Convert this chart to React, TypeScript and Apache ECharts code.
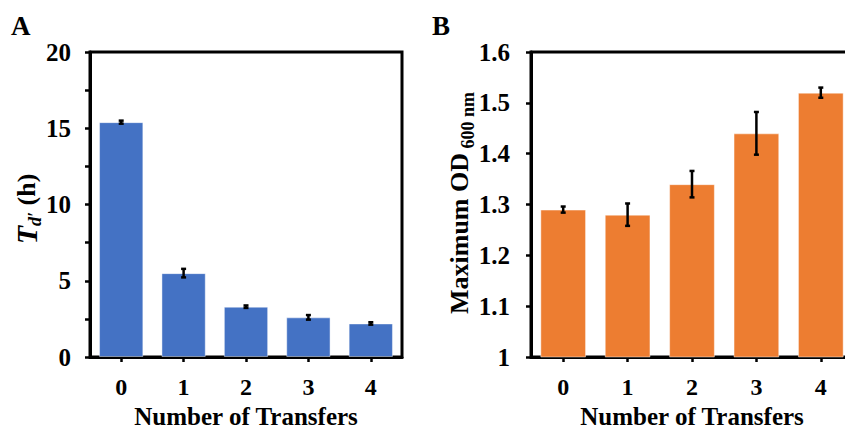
import React, { useEffect, useRef } from "react";
import * as echarts from "echarts";

const categories = ["0", "1", "2", "3", "4"];
const tdValues = [15.4, 5.5, 3.3, 2.6, 2.2];
const tdErrors = [0.1, 0.28, 0.08, 0.15, 0.08];
const odValues = [1.29, 1.28, 1.34, 1.44, 1.52];
const odErrors = [0.006, 0.022, 0.026, 0.042, 0.01];
const xAxisTitle = "Number of Transfers";

const FONT = "'Liberation Serif', 'Times New Roman', serif";

function errorData(vals: number[], errs: number[]) {
  return vals.map((v, i) => [i, v - errs[i], v + errs[i]]);
}

function renderError(params: any, api: any) {
  const x = api.value(0);
  const lo = api.value(1);
  const hi = api.value(2);
  const p1 = api.coord([x, hi]);
  const p2 = api.coord([x, lo]);
  const hw = 2.5;
  const st = { stroke: "#000", lineWidth: 2.5 };
  return {
    type: "group",
    children: [
      { type: "line", shape: { x1: p1[0], y1: p1[1], x2: p2[0], y2: p2[1] }, style: st },
      { type: "line", shape: { x1: p1[0] - hw, y1: p1[1], x2: p1[0] + hw, y2: p1[1] }, style: st },
      { type: "line", shape: { x1: p2[0] - hw, y1: p2[1], x2: p2[0] + hw, y2: p2[1] }, style: st },
    ],
  };
}

export default function App() {
  const ref = useRef<HTMLDivElement>(null);
  useEffect(() => {
    if (!ref.current) return;
    const chart = echarts.init(ref.current, null, { renderer: "svg" });
    const axisLine = { show: true, lineStyle: { color: "#000", width: 3 } };
    const axisTick = { show: true, inside: false, length: 5, lineStyle: { color: "#000", width: 2.5 } };
    const labelStyle = { color: "#000", fontFamily: FONT, fontWeight: "bold" as const };
    const xAxisCommon = (gi: number) => ({
      type: "category" as const,
      gridIndex: gi,
      data: categories,
      axisLine,
      axisTick: { ...axisTick, alignWithLabel: true },
      axisLabel: { ...labelStyle, fontSize: 24, margin: 18 },
      name: xAxisTitle,
      nameLocation: "middle" as const,
      nameGap: 45,
      nameTextStyle: { color: "#000", fontFamily: FONT, fontWeight: "bold" as const, fontSize: 25 },
      splitLine: { show: false },
    });
    chart.setOption({
      animation: false,
      backgroundColor: "#fff",
      grid: [
        { left: 90, top: 52, width: 312, height: 305, show: true, borderColor: "#000", borderWidth: 3, containLabel: false, outerBoundsMode: "none" },
        { left: 531, top: 52, width: 322, height: 305, show: true, borderColor: "#000", borderWidth: 3, containLabel: false, outerBoundsMode: "none" },
      ],
      xAxis: [xAxisCommon(0), xAxisCommon(1)],
      yAxis: [
        {
          type: "value",
          gridIndex: 0,
          min: 0,
          max: 20,
          interval: 2.5,
          axisLine,
          axisTick,
          splitLine: { show: false },
          axisLabel: {
            ...labelStyle,
            fontSize: 25,
            margin: 19,
            formatter: (v: number) => (v % 5 === 0 ? String(v) : ""),
          },
        },
        {
          type: "value",
          gridIndex: 1,
          min: 1,
          max: 1.6,
          interval: 0.1,
          axisLine,
          axisTick,
          splitLine: { show: false },
          axisLabel: {
            ...labelStyle,
            fontSize: 25,
            margin: 21,
            formatter: (v: number) => String(parseFloat(v.toFixed(1))),
          },
        },
      ],
      graphic: [
        { type: "text", left: 11, top: 12, style: { text: "A", font: `bold 27px ${FONT}`, fill: "#000" } },
        { type: "text", left: 432, top: 12, style: { text: "B", font: `bold 27px ${FONT}`, fill: "#000" } },
        {
          type: "text",
          x: 26,
          y: 209,
          rotation: Math.PI / 2,
          style: {
            text: "{t|T}{s|d′}{h| (h)}",
            align: "center",
            verticalAlign: "middle",
            fill: "#000",
            rich: {
              t: { fontFamily: FONT, fontWeight: "bold", fontStyle: "italic", fontSize: 30, fill: "#000" },
              s: { fontFamily: FONT, fontWeight: "bold", fontStyle: "italic", fontSize: 18, fill: "#000", padding: [18, 0, 0, 0] },
              h: { fontFamily: FONT, fontWeight: "bold", fontSize: 26, fill: "#000" },
            },
          },
        },
        {
          type: "text",
          x: 459,
          y: 203,
          rotation: Math.PI / 2,
          style: {
            text: "{m|Maximum OD}{s| 600 nm}",
            align: "center",
            verticalAlign: "middle",
            fill: "#000",
            rich: {
              m: { fontFamily: FONT, fontWeight: "bold", fontSize: 26, fill: "#000" },
              s: { fontFamily: FONT, fontWeight: "bold", fontSize: 18, fill: "#000", padding: [18, 0, 0, 0] },
            },
          },
        },
      ],
      series: [
        {
          type: "bar",
          xAxisIndex: 0,
          yAxisIndex: 0,
          data: tdValues,
          barCategoryGap: "29%",
          itemStyle: { color: "#4472C4", borderColor: "rgba(255,255,255,0.45)", borderWidth: 1 },
        },
        {
          type: "custom",
          xAxisIndex: 0,
          yAxisIndex: 0,
          data: errorData(tdValues, tdErrors),
          encode: { x: 0, y: [1, 2] },
          renderItem: renderError,
          z: 5,
        },
        {
          type: "bar",
          xAxisIndex: 1,
          yAxisIndex: 1,
          data: odValues,
          barCategoryGap: "29%",
          itemStyle: { color: "#ED7D31", borderColor: "rgba(255,255,255,0.45)", borderWidth: 1 },
        },
        {
          type: "custom",
          xAxisIndex: 1,
          yAxisIndex: 1,
          data: errorData(odValues, odErrors),
          encode: { x: 0, y: [1, 2] },
          renderItem: renderError,
          z: 5,
        },
      ],
    });
    return () => chart.dispose();
  }, []);
  return (
    <div
      ref={ref}
      style={{ position: "fixed", left: 0, top: 0, width: 845, height: 429, background: "#fff" }}
    />
  );
}
